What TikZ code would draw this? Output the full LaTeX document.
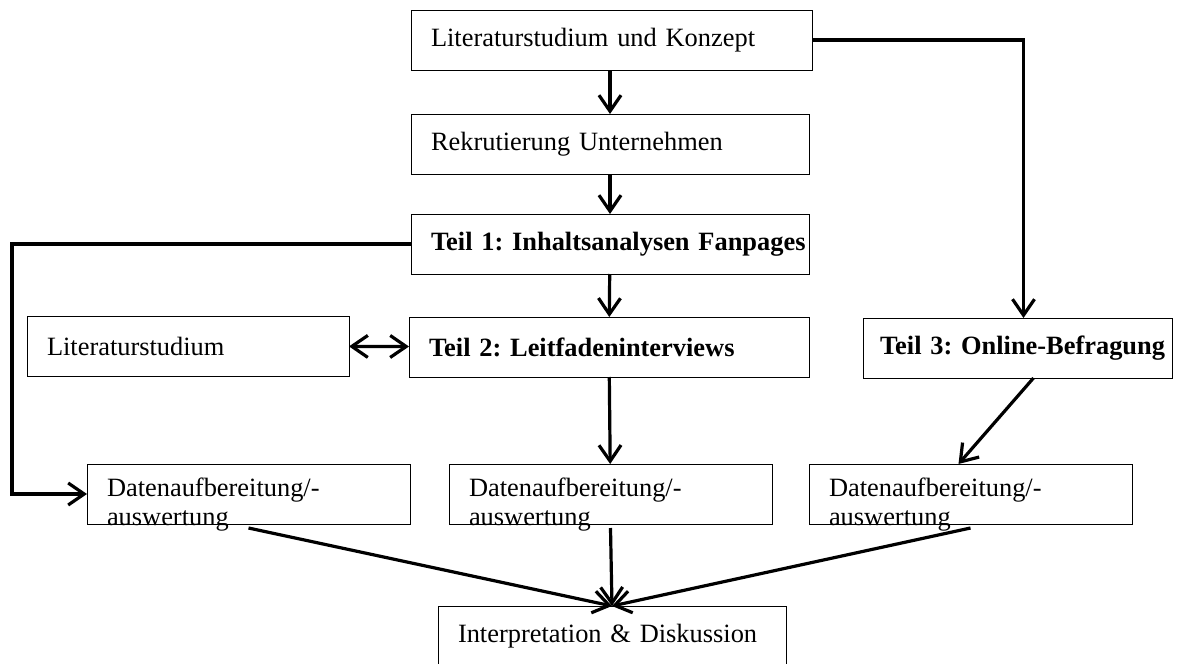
\documentclass[tikz,border=0pt]{standalone}
\usepackage{fontspec}
\setmainfont{Liberation Serif}
\usepackage{tikz}
\usetikzlibrary{arrows.meta}
\newcommand{\schrift}{\fontsize{13.2}{14.5}\selectfont\frenchspacing}
\tikzset{kasten/.style={draw,line width=0.5pt,anchor=north west,outer sep=0pt,inner xsep=10pt,inner ysep=0pt,minimum height=30pt,align=left,font=\schrift}}

\begin{document}
\begin{tikzpicture}[>={Straight Barb[length=8pt,width=11pt]},x=0.5pt,y=-0.5pt,line width=1.6pt]
            \useasboundingbox (0,0) rectangle (1179,664);
            \node[kasten,text width=180.5pt] (konzept) at (411,10) {Literaturstudium und Konzept};
            \node[kasten,text width=179pt] (rekrut) at (411,114) {Rekrutierung Unternehmen};
            \node[kasten,text width=179pt] (teil1) at (411,214) {\mbox{\bfseries Teil 1: Inhaltsanalysen Fanpages}};
            \node[kasten,text width=180pt] (teil2) at (409,317) {\bfseries Teil 2: Leitfadeninterviews};
            \node[kasten,text width=141pt] (lit) at (27,316) {Literaturstudium};
            \node[kasten,text width=137.5pt,inner xsep=8.5pt] (teil3) at (863,318) {\mbox{\bfseries Teil 3: Online-Befragung}};
            \foreach \n/\x in {datenL/87,datenM/449,datenR/809}
            {
                \node[kasten,text width=141.5pt,text depth=6.5pt] (\n) at (\x,464) {Datenaufbereitung/-\\auswertung};
            }
            \node[kasten,text width=154pt] (interp) at (438,606) {Interpretation \& Diskussion};
            \coordinate (ecke) at (12,494);
            \draw[->] (konzept.south -| rekrut.north) -- (rekrut.north);
            \draw[->] (rekrut) -- (teil1);
            \draw[->] (teil1) -- (teil2);
            \draw[->] (teil2) -- (datenM);
            \draw[<->] (lit) -- (teil2);
            \draw[->] (konzept.east) -| ([xshift=3pt]teil3.north);
            \draw[->] (teil1.west) -| (ecke) -- (datenL.west);
            \draw[->] ([xshift=8pt]teil3.south) -- ([xshift=-6pt]datenR.north);
            \foreach \n in {datenL,datenM,datenR}
            {
                \draw[->] ([yshift=-2pt]\n.south) -- (interp.north);
            }
        \end{tikzpicture}
\end{document}
